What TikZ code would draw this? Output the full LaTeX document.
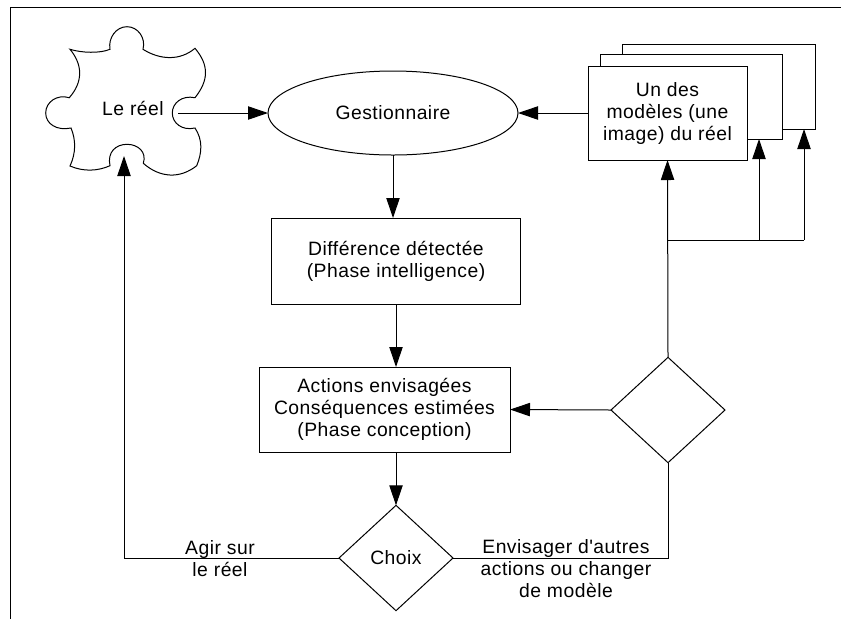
\documentclass[tikz,border=0pt]{standalone}
\usepackage{fontspec}
\setmainfont[Ligatures=TeXOff,LetterSpace=2.5]{Liberation Sans}
\usetikzlibrary{arrows.meta,shapes.geometric}

\tikzset{
  lbl/.style={inner sep=0pt,align=center,font=\fontsize{14.5}{16.5}\selectfont},
  boxnode/.style={draw,fill=white,inner sep=0pt,outer sep=0pt,align=center,font=\fontsize{14.5}{16.5}\selectfont},
  choicenode/.style={draw,diamond,aspect=1.08,fill=white,inner sep=0pt,outer sep=0pt,font=\fontsize{14.5}{16.5}\selectfont,minimum width=85.5pt,minimum height=79pt},
  flow/.style={-{Triangle[length=15pt,width=10pt]}},
}

\begin{document}
\begin{tikzpicture}[x=0.75pt,y=0.75pt,yscale=-1,xscale=1,line width=0.75pt]
\useasboundingbox (0,0) rectangle (841,619);

% Frame
\draw (841,7) -- (10,7) -- (10,619);

% Puzzle piece
\draw (70,49.3) .. controls (82,53) and (100,53.5) .. (110,49.3)
  .. controls (108,38) and (116,26.7) .. (127,26.7)
  .. controls (138,26.7) and (146,38) .. (143,49.3)
  .. controls (160,60) and (180,61) .. (195,48.3)
  .. controls (209,65) and (209,80) .. (195,97.7)
  .. controls (182,95) and (172.3,103) .. (172.3,113)
  .. controls (172.3,123) and (182,131) .. (195,128)
  .. controls (203,140) and (202,153) .. (196.7,165.7)
  .. controls (180,179) and (160,178) .. (143.3,163.3)
  .. controls (147,152) and (138,144.3) .. (127,144.3)
  .. controls (116,144.3) and (107,152) .. (110,165.7)
  .. controls (98,171) and (84,172) .. (70,166)
  .. controls (76,153) and (76,140) .. (71,128)
  .. controls (57,131) and (45.7,124) .. (45.7,113)
  .. controls (45.7,102) and (57,94) .. (69.3,97.7)
  .. controls (83,82) and (83,65) .. (70,49.3) -- cycle;
% Text Node
\node[lbl] (reel) at (133,108) {Le réel};
\coordinate (reelOut) at (178,113);
\coordinate (reelIn) at (124,156);

% Ellipse
\node[draw,ellipse,inner sep=0pt,outer sep=0pt,minimum width=187.5pt,minimum height=63pt,font=\fontsize{14.5}{16.5}\selectfont] (gest) at (393,113) {Gestionnaire};

% Model boxes
\node[boxnode,minimum width=144.75pt,minimum height=63.75pt] (modelC) at (718.5,86.5) {};
\node[boxnode,minimum width=136.5pt,minimum height=63.75pt] (modelB) at (691,96.5) {};
\node[boxnode,minimum width=119.25pt,minimum height=70.5pt] (modelA) at (667.5,113) {Un des\\modèles (une\\image) du réel};

% Boxes
\node[boxnode,minimum width=186.75pt,minimum height=64.5pt] (diff) at (396,261) {Différence détectée\\(Phase intelligence)};
\node[boxnode,minimum width=188.25pt,minimum height=63.75pt] (act) at (384.5,409.5) {Actions envisagées\\Conséquences estimées\\(Phase conception)};

% Diamonds
\node[choicenode] (choix) at (396,558) {Choix};
\node[choicenode] (alt) at (668,410) {};

% Text Node
\node[lbl] (agir) at (220,559) {Agir sur\\le réel};
\node[lbl] (envis) at (566,569) {Envisager d'autres\\actions ou changer\\de modèle};

% Connection
\coordinate (forkA) at (668,240);
\coordinate (forkB) at (759,240);
\coordinate (forkC) at (804,240);
\coordinate (turnA) at (124,558);
\coordinate (turnB) at (668,558);
\draw[flow] (reelOut) -- (gest.west |- reelOut);
\draw[flow] (modelA.west) -- (gest.east);
\draw[flow] (gest.south) -- (gest.south |- diff.north);
\draw[flow] (diff.south) -- (diff.south |- act.north);
\draw[flow] (act.south -| choix.north) -- (choix.north);
\draw[flow] (alt.west) -- (act.east);
\draw[flow] (choix.west) -- (turnA) -- (reelIn);
\draw (choix.east) -- (turnB) -- (alt.south);
\draw[flow] (alt.north) -- (modelA.south);
\draw (forkA) -- (forkC);
\draw[flow] (forkB) -- (forkB |- modelB.south);
\draw[flow] (forkC) -- (forkC |- modelC.south);

\end{tikzpicture}
\end{document}
